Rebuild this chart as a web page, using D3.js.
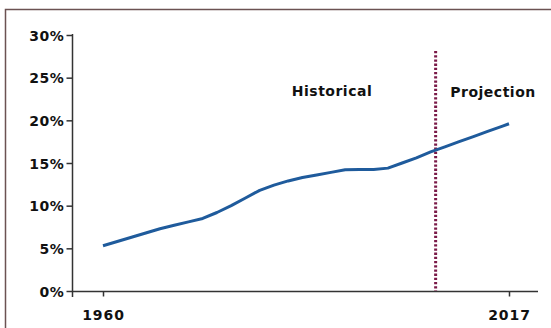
<!DOCTYPE html>
<html>
<head>
<meta charset="utf-8">
<script src="https://cdn.jsdelivr.net/npm/d3@7"></script>
<style>
  html, body { margin: 0; padding: 0; background: #fff; }
  svg { display: block; }
  text { font-family: "DejaVu Sans", Verdana, sans-serif; font-weight: bold; fill: #111; }
</style>
</head>
<body>
<svg id="chart" width="551" height="328"></svg>
<script>
// Share of population (%) by year; historical through the mid-2000s, projected after
const years = [1960, 1962, 1964, 1966, 1968, 1970, 1972, 1974, 1976, 1978,
               1980, 1982, 1984, 1986, 1988, 1990, 1992, 1994, 1996, 1998,
               2000, 2002, 2004, 2006, 2008, 2010, 2012, 2014, 2016, 2017];
const shares = [5.3, 5.8, 6.3, 6.8, 7.3, 7.7, 8.1, 8.5, 9.2, 10.0,
                10.9, 11.8, 12.4, 12.9, 13.3, 13.6, 13.9, 14.2, 14.25, 14.25,
                14.4, 15.0, 15.6, 16.3, 16.9, 17.5, 18.1, 18.7, 19.3, 19.6];
const yTicks = [0, 5, 10, 15, 20, 25, 30];
const xTicks = [1960, 2017];
const projectionStart = 2006.7;
const sectionLabels = ["Historical", "Projection"];

const svg = d3.select("#chart");

// frame: top and left edges only
svg.append("path")
  .attr("d", "M5.5,328 V9.5 H551")
  .attr("fill", "none")
  .attr("stroke", "#6b5252")
  .attr("stroke-width", 1.5);

const x = d3.scaleLinear().domain([1960, 2017]).range([103, 509]);
const y = d3.scaleLinear().domain([0, 30]).range([291, 35]);

const axisColor = "#333";

// y axis
const yAxis = svg.append("g")
  .attr("transform", "translate(72.5,0)")
  .call(d3.axisLeft(y).tickValues(yTicks).tickSize(6).tickSizeOuter(0).tickFormat(d => d + "%"));
yAxis.select(".domain").remove();
yAxis.selectAll(".tick line").attr("stroke", axisColor).attr("stroke-width", 1.5);
yAxis.selectAll(".tick text")
  .attr("x", -8)
  .attr("dy", "0.36em")
  .style("font-size", "14px")
  .style("letter-spacing", "0.6px")
  .attr("fill", "#111");
yAxis.append("line")
  .attr("x1", 0).attr("x2", 0)
  .attr("y1", y(30) - 1).attr("y2", y(0) + 6)
  .attr("stroke", axisColor).attr("stroke-width", 1.5);

// x axis
const xAxis = svg.append("g")
  .attr("transform", "translate(0,291.5)")
  .call(d3.axisBottom(x).tickValues(xTicks).tickSize(5).tickSizeOuter(0).tickFormat(d3.format("d")));
xAxis.select(".domain").remove();
xAxis.selectAll(".tick line").attr("stroke", axisColor).attr("stroke-width", 1.5);
xAxis.selectAll(".tick text")
  .attr("y", 19)
  .attr("dy", "0.71em")
  .style("font-size", "14px")
  .style("letter-spacing", "0.9px")
  .attr("fill", "#111");
xAxis.append("line")
  .attr("x1", 72).attr("x2", 538)
  .attr("y1", 0).attr("y2", 0)
  .attr("stroke", axisColor).attr("stroke-width", 1.5);

// projection divider
svg.append("line")
  .attr("x1", x(projectionStart)).attr("x2", x(projectionStart))
  .attr("y1", 51).attr("y2", 291)
  .attr("stroke", "#7a1a48")
  .attr("stroke-width", 3)
  .attr("stroke-dasharray", "2.3,1.9");

// series line
const data = years.map((yr, i) => ({ year: yr, value: shares[i] }));
svg.append("path")
  .datum(data)
  .attr("fill", "none")
  .attr("stroke", "#1f5b9c")
  .attr("stroke-width", 3)
  .attr("stroke-linejoin", "round")
  .attr("d", d3.line().x(d => x(d.year)).y(d => y(d.value)));

// section labels
svg.append("text")
  .attr("x", 332).attr("y", 96)
  .attr("text-anchor", "middle")
  .style("font-size", "14px")
  .style("letter-spacing", "0.5px")
  .text(sectionLabels[0]);
svg.append("text")
  .attr("x", 493).attr("y", 97)
  .attr("text-anchor", "middle")
  .style("font-size", "14px")
  .style("letter-spacing", "0.5px")
  .text(sectionLabels[1]);
</script>
</body>
</html>
